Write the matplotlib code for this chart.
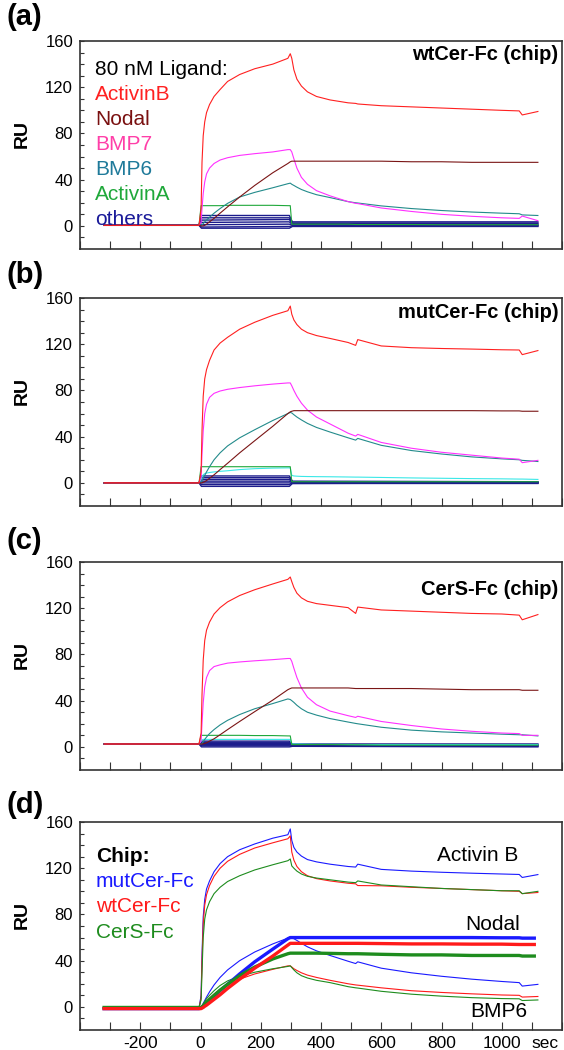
import matplotlib
matplotlib.use('Agg')
import matplotlib.pyplot as plt
import numpy as np

plt.rcParams['font.family'] = ['Liberation Sans', 'DejaVu Sans']

# ---------------------------------------------------------------- data
# time grid (sec) shared by all sensorgrams (34 points)
t = [-320, -5, 2, 5, 9, 14, 20, 30,
     45, 65, 90, 130, 180, 240, 290, 298,
     303, 310, 320, 335, 355, 385, 430, 490,
     515, 522, 600, 700, 800, 900, 1000, 1058, 1068, 1120]

# short grid for the near-zero "others" traces
t_oth = [-320, -5, 3, 295, 305, 1120]

# (a) wtCer-Fc chip
a_actB = [0.5, 0.5, 15, 55, 78, 90, 98, 105,
          112, 118, 125, 131, 136, 140, 145, 149,
          145, 135, 127, 121, 116, 112, 109, 106.5,
          106, 105.5, 104, 103, 102, 101, 100, 99.5, 96, 99]
a_nodal = [0.5, 0.5, 0, 0, 0, 0.5, 1.5, 3.5,
           6.5, 11, 16.5, 25, 35, 46, 54, 55.5,
           56, 56, 56, 56, 56, 56, 56, 56,
           56, 56, 56, 55.5, 55.5, 55, 55, 55, 55, 55]
a_bmp7 = [0.5, 0.5, 3, 15, 28, 38, 45, 50,
          54, 57, 59, 61, 62.5, 64, 66, 66,
          64, 58, 50, 42, 36, 30.5, 26, 21,
          19.5, 19.3, 15.5, 12.5, 10, 8.3, 7, 6.5, 8.5, 4.5]
a_bmp6 = [0.5, 0.5, 0.5, 1, 2, 3.5, 5, 7.5,
          11, 15, 19.5, 25, 29, 33, 36.5, 37,
          36, 35, 33.5, 31.5, 29.5, 27, 24.5, 21,
          20, 19.8, 17.3, 15, 13.3, 12, 11, 10.5, 9.5, 9]
a_actA = [0.5, 0.5, 17.5, 17.5, 17.5, 17.5, 17.5, 17.5,
          17.5, 17.5, 17.8, 17.8, 17.8, 17.8, 17.5, 17.5,
          1.5, 1.5, 1.5, 1.5, 1.5, 1.5, 1.5, 1.5,
          1.2, 1.2, 1.2, 1.2, 1, 1, 1, 1, 1, 1]
a_cyan = None
a_oth = [[0.5, 0.5, 9, 9, 3.5, 3.5],
         [0.5, 0.5, 7, 7, 2.5, 2.5],
         [0.5, 0.5, 5, 5.5, 2, 2],
         [0.5, 0.5, 3, 3.5, 1, 1],
         [0.5, 0.5, 1, 1.5, 0.5, 0.5],
         [0.5, 0.5, -1, -0.5, 0, 0],
         [0.5, 0.5, -2, -2, -0.5, -0.5]]

# (b) mutCer-Fc chip
b_actB = [0, 0, 10, 45, 75, 90, 98, 106,
          115, 121, 126, 133, 139, 145, 149, 153,
          146, 141, 137, 133, 130, 127.5, 125, 121.5,
          119, 124, 118.5, 117, 116.3, 115.8, 115.2, 115, 111, 114.5]
b_nodal = [0, 0, 0, 0, 0.5, 1, 2, 4,
           7, 11.5, 17, 26, 36.5, 49, 60, 61.5,
           62, 62.5, 62.5, 62.5, 62.5, 62.5, 62.5, 62.5,
           62.5, 62.5, 62.5, 62.5, 62.5, 62.5, 62.3, 62.3, 62, 62]
b_bmp7 = [0, 0, 5, 25, 45, 60, 68, 74,
          77.5, 79.5, 81, 82.5, 84, 85.5, 86.5, 86.5,
          84, 80, 75, 69, 63, 57, 51, 43,
          40.5, 42, 35, 30, 26.5, 24, 21.5, 20.5, 17.5, 19.5]
b_bmp6 = [0, 0, 0.5, 2, 4, 6.5, 9.5, 14,
          20, 26, 32, 39, 46, 54, 60, 61,
          60.5, 59, 57, 54.5, 51.5, 48, 44, 39,
          37, 38.5, 32.5, 28, 25, 22.5, 20.8, 20, 19.5, 18.5]
b_actA = [0, 0, 14, 14, 14, 14, 14, 14,
          14, 14, 14, 14, 14, 14, 14, 14,
          1, 1, 1, 1, 1, 1, 1, 1,
          1, 1, 1, 1, 1, 1, 1, 1, 1, 1]
b_cyan = [0, 0, 3, 5, 7, 8, 8.5, 9,
          9.5, 10, 10.5, 11.5, 12.3, 12.8, 13, 13,
          6.5, 6, 5.8, 5.6, 5.5, 5.4, 5.3, 5.1,
          5, 5, 4.7, 4.3, 4, 3.7, 3.5, 3.3, 3.3, 3]
b_oth = [[0, 0, 6, 6, 1.5, 1],
         [0, 0, 4.5, 4.5, 1, 0.5],
         [0, 0, 3, 3, 0.5, 0.5],
         [0, 0, 1.5, 1.5, 0, 0],
         [0, 0, 0, 0, -0.5, -0.5],
         [0, 0, -1.5, -1.5, 0, 0],
         [0, 0, -3, -3, -0.5, 0]]

# (c) CerS-Fc chip
c_actB = [2.5, 2.5, 12, 45, 75, 92, 101, 108,
          115, 120.5, 125.5, 131, 136, 141, 145, 147,
          143, 138, 133, 129, 126, 124, 122.5, 120.5,
          115.5, 121, 118.5, 117.5, 116.5, 115.5, 115, 114, 110, 114.5]
c_nodal = [2.5, 2.5, 2.5, 2.5, 2.5, 3, 3.5, 5,
           7, 10.5, 15, 22, 30.5, 40.5, 49.5, 50.5,
           51, 51, 51, 51, 51, 51, 51, 51,
           50.5, 50.5, 50.5, 50.5, 50, 49.5, 49.5, 49.5, 49, 49]
c_bmp7 = [2.5, 2.5, 5, 20, 38, 52, 60, 66,
          69.5, 71, 72.5, 73.5, 74.5, 75.5, 76.5, 76.5,
          74, 68, 60, 51, 43, 36.5, 31, 27,
          25.5, 26.5, 22, 18.5, 15.5, 13.5, 12, 11.5, 10, 10]
c_bmp6 = [2.5, 2.5, 2.5, 3, 4.5, 6.5, 8.5, 11.5,
          15, 19, 23, 28, 33, 37.5, 41.5, 41,
          40, 38.5, 36, 33, 30, 27.5, 24.5, 21.5,
          20.3, 20, 17, 14.5, 13, 12, 11, 10.5, 10.5, 9.5]
c_actA = [2.5, 2.5, 10, 10, 10, 10, 10, 10,
          10, 10, 10, 10, 9.8, 9.8, 9.5, 9.5,
          2, 2, 2, 2, 2, 2, 2, 1.8,
          1.8, 1.8, 1.5, 1.5, 1.5, 1.5, 1.5, 1.5, 1.5, 1.5]
c_cyan = [2.5, 2.5, 5, 6, 6.5, 6.5, 6.5, 6.5,
          6.5, 6.5, 6.5, 6.5, 6.5, 6.5, 6.5, 6.5,
          2.5, 2.5, 2.5, 2.4, 2.3, 2.2, 2.2, 2.1,
          2, 2, 2, 2, 2, 2, 2, 2, 2, 2]
c_oth = [[2.5, 2.5, 5, 5, 2.5, 2.5],
         [2.5, 2.5, 4, 4, 2, 2],
         [2.5, 2.5, 3, 3, 1.5, 1.5],
         [2.5, 2.5, 2, 2, 1, 1],
         [2.5, 2.5, 1, 1, 0.5, 0.5],
         [2.5, 2.5, 0, 0, 0.5, 0]]

# (d) overlay of the three chips
d_actB_mut = [-1, -1, 10, 45, 78, 93, 102, 109,
              117, 124, 130, 136, 141, 146, 149, 154,
              144, 138, 134, 130.5, 127.5, 125.5, 123.5, 121.5,
              121, 123.5, 119, 117.5, 116.5, 115.7, 115, 114.6, 112, 114.5]
d_actB_wt = [-1, -1, 8, 40, 72, 88, 97, 105,
             113, 120, 126, 132, 137.5, 142, 145.5, 148,
             134, 127, 121.5, 117, 113.5, 111, 109, 107,
             106.5, 105, 104.8, 103.5, 102.5, 101.5, 100.5, 100, 98, 99]
d_actB_cers = [-0.5, -0.5, 6, 30, 60, 76, 84, 91,
               98, 103.5, 108.5, 113.5, 118.5, 123, 126.5, 128,
               122, 120, 117.5, 115, 113, 111.5, 110, 108,
               107.5, 109, 105.5, 104, 102.5, 101.5, 100.5, 100.5, 98, 100]
d_bmp6_mut = [-1, -1, -0.5, 1, 3, 5.5, 8.5, 13,
              19, 25.5, 32, 40, 47.5, 54.5, 59.5, 60.5,
              60, 59, 57.5, 55, 52, 48.5, 44.5, 39.5,
              37.5, 39, 33.5, 29.5, 26.5, 24, 22, 21, 18, 19.5]
d_bmp6_wt = [-1, -1, -0.5, 0, 1.5, 3, 5, 7.5,
             11, 15, 19, 24, 28.5, 32.5, 35.5, 35.5,
             34.5, 33, 31.5, 29.5, 27.5, 25.5, 23, 20,
             19, 18.8, 16.5, 14, 12.5, 11.3, 10.3, 10, 8.5, 9]
d_bmp6_cers = [-0.5, -0.5, 0, 1, 2.5, 4.5, 7, 10,
               14, 18.5, 22.5, 26.5, 30, 33, 35, 35.5,
               34, 32, 29.5, 27, 25, 23, 21, 17.5,
               16.5, 16.3, 13.5, 11, 9.3, 8, 7.2, 7, 5.5, 6]
d_nodal_mut = [-1.5, -1.5, -1, -0.5, 0.5, 1.5, 3, 5.5,
               9, 14, 19.5, 28.5, 39, 50, 59, 60,
               60, 60, 60, 60, 60, 60, 60, 60,
               60, 60, 60, 60, 60, 60, 59.8, 59.8, 59.5, 59.5]
d_nodal_wt = [-1.5, -1.5, -1.5, -1, -0.5, 0.5, 1.5, 3.5,
              6.5, 10.5, 16, 24, 33.5, 44, 53.5, 55,
              55, 55, 55, 55, 55, 55, 55, 55,
              55, 55, 54.8, 54.5, 54.5, 54.3, 54.3, 54, 54, 54]
d_nodal_cers = [-0.5, -0.5, -0.5, 0, 1, 2.5, 4, 6.5,
                10, 14.5, 19.5, 27, 34.5, 41.5, 46, 46.5,
                46.5, 46.5, 46.5, 46.5, 46.5, 46.5, 46.3, 46,
                46, 46, 45.5, 45, 45, 44.5, 44.5, 44.5, 44, 44]

ligands = ['80 nM Ligand:', 'ActivinB', 'Nodal', 'BMP7', 'BMP6', 'ActivinA', 'others']
chips = ['mutCer-Fc', 'wtCer-Fc', 'CerS-Fc']
chip_titles = ['wtCer-Fc (chip)', 'mutCer-Fc (chip)', 'CerS-Fc (chip)']
yticks = [0, 40, 80, 120, 160]
xtick_labels = [-200, 0, 200, 400, 600, 800, 1000]

# ---------------------------------------------------------------- colours
col_red = '#ff2020'
col_brown = '#7a1515'
col_mag = '#ff30ff'
col_teal = '#238b8b'
col_green = '#1fa83a'
col_navy = '#1c1c8c'
col_cyan = '#3ae8e8'
leg_cols = ['black', '#ff2020', '#7a1010', '#ff3fa8', '#1f7a9a', '#1fa83a', '#1a1a99']
chip_cols = ['#1a1aff', '#ff1a1a', '#1e8c1e']

W, H = 564, 1050
fig = plt.figure(figsize=(W / 100, H / 100), dpi=100)
xt = np.arange(-400, 1201, 100)


def make_ax(top_px):
    ax = fig.add_axes([80 / W, 1 - (top_px + 208) / H, 482 / W, 208 / H])
    ax.set_xlim(-400, 1200)
    ax.set_ylim(-20, 160)
    ax.set_yticks(yticks)
    ax.set_yticks(np.arange(-10, 160, 10), minor=True)
    ax.set_xticks(xt)
    ax.set_xticklabels([])
    ax.tick_params(axis='y', which='both', direction='in', length=3, width=0.8,
                   labelsize=12, pad=5, colors='#333333', labelcolor='black')
    ax.tick_params(axis='x', direction='in', length=6, width=0.8, colors='#333333',
                   labelcolor='black', labelsize=12.5, pad=4)
    for s in ax.spines.values():
        s.set_color('#333333')
        s.set_linewidth(1.2)
    ax.text(-0.12, 100 / 180, 'RU', transform=ax.transAxes, rotation=90,
            ha='center', va='center', fontsize=14, fontweight='bold')
    return ax


def draw_panel(ax, actB, nodal, bmp7, bmp6, actA, cyan, oth):
    lw = 0.8
    for o in oth:
        ax.plot(t_oth, o, color=col_navy, lw=1.0)
    if cyan is not None:
        ax.plot(t, cyan, color=col_cyan, lw=lw)
    ax.plot(t, actA, color=col_green, lw=lw)
    ax.plot(t, bmp6, color=col_teal, lw=lw)
    ax.plot(t, bmp7, color=col_mag, lw=lw)
    ax.plot(t, nodal, color=col_brown, lw=lw)
    ax.plot(t, actB, color=col_red, lw=lw)


# panel letters
for lab, ypx in zip(['(a)', '(b)', '(c)', '(d)'], [17, 275, 541, 805]):
    fig.text(7 / W, 1 - ypx / H, lab, fontsize=21, fontweight='bold',
             ha='left', va='center')

tops = [41, 298, 562]
panels = [(a_actB, a_nodal, a_bmp7, a_bmp6, a_actA, a_cyan, a_oth),
          (b_actB, b_nodal, b_bmp7, b_bmp6, b_actA, b_cyan, b_oth),
          (c_actB, c_nodal, c_bmp7, c_bmp6, c_actA, c_cyan, c_oth)]
title_y = [0.933, 0.928, 0.87]
for i in range(3):
    ax = make_ax(tops[i])
    draw_panel(ax, *panels[i])
    ax.text(0.992, title_y[i], chip_titles[i], transform=ax.transAxes,
            ha='right', va='center', fontsize=14.5, fontweight='bold')
    if i == 0:
        for j, (txt, col) in enumerate(zip(ligands, leg_cols)):
            ax.text(0.031, 0.861 - j * 0.12, txt, transform=ax.transAxes,
                    ha='left', va='center', fontsize=15, color=col)

# panel (d)
ax = make_ax(822)
for series, col in zip([d_actB_mut, d_actB_wt, d_actB_cers], chip_cols):
    ax.plot(t, series, color=col, lw=0.8)
for series, col in zip([d_bmp6_mut, d_bmp6_wt, d_bmp6_cers], chip_cols):
    ax.plot(t, series, color=col, lw=0.8)
t_thick = t[:-1] + [1108]
for series, col in zip([d_nodal_mut, d_nodal_cers, d_nodal_wt],
                       [chip_cols[0], chip_cols[2], chip_cols[1]]):
    ax.plot(t_thick, series, color=col, lw=2.4)

ax.set_xticklabels([str(v) if v in xtick_labels else '' for v in xt])
ax.annotate('sec', xy=(1098, 0), xycoords=('data', 'axes fraction'),
            xytext=(0, -4), textcoords='offset points', ha='left', va='top',
            fontsize=12.5)

ax.text(0.033, 0.832, 'Chip:', transform=ax.transAxes, ha='left', va='center',
        fontsize=15, fontweight='bold')
for j, (txt, col) in enumerate(zip(chips, chip_cols)):
    ax.text(0.033, 0.715 - j * 0.122, txt, transform=ax.transAxes, ha='left',
            va='center', fontsize=15, color=col)
ax.text(1056, 130.6, 'Activin B', ha='right', va='center', fontsize=15)
ax.text(1060, 71.7, 'Nodal', ha='right', va='center', fontsize=15)
ax.text(990, -3.7, 'BMP6', ha='center', va='center', fontsize=15)

fig.savefig('out.png', dpi=100)
